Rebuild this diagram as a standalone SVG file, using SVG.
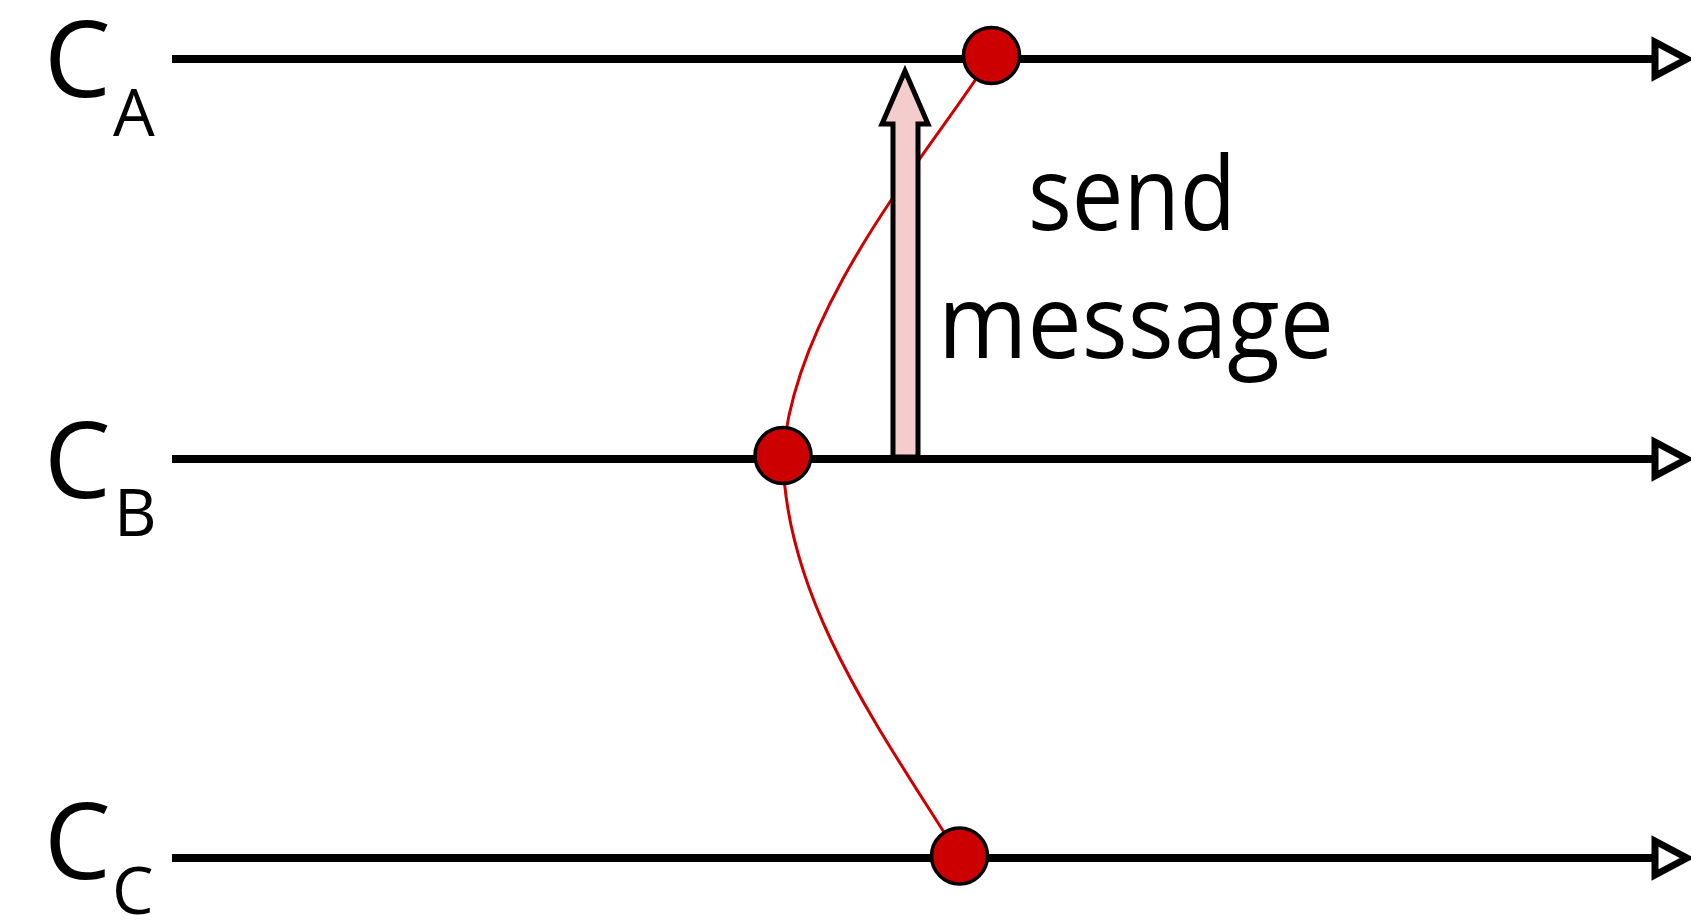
<svg xmlns="http://www.w3.org/2000/svg" width="1691" height="923" viewBox="0 0 1691 923">
<defs>
<style>
.tl{stroke:#000;stroke-width:8;fill:none}
.ah{fill:#fff;stroke:#000;stroke-width:7;stroke-linejoin:miter}
.ev{fill:#CC0000;stroke:#000;stroke-width:3.5}
.cur{fill:none;stroke:#CC0000;stroke-width:3}
.lbl{font-family:"Open Sans","Noto Sans",sans-serif;fill:#000}
</style>
</defs>
<g id="connectors">
<line class="tl" x1="172" y1="59" x2="1654" y2="59"/>
<polygon class="ah" points="1655,42 1687,59 1655,76"/>
<line class="tl" x1="172" y1="459" x2="1654" y2="459"/>
<polygon class="ah" points="1655,442 1687,459 1655,476"/>
<line class="tl" x1="172" y1="858" x2="1654" y2="858"/>
<polygon class="ah" points="1655,841 1687,858 1655,875"/>
<path class="cur" d="M991,56 C940,140 795,300 783,456"/>
<path class="cur" d="M783,456 C785,600 880,730 959,856"/>
</g>
<g id="send-arrow">
<polygon points="893,457 893,124 882,124 905,71 928,124 918,124 918,457" fill="#F4CCCC" stroke="#000" stroke-width="5"/>
</g>
<g id="eventA"><circle class="ev" cx="991.5" cy="55.5" r="28"/></g>
<g id="eventB"><circle class="ev" cx="783" cy="455.5" r="28"/></g>
<g id="eventC"><circle class="ev" cx="959.5" cy="856" r="28"/></g>
<g id="labelA"><text class="lbl" x="44" y="97" font-size="106">C<tspan x="113" y="136" font-size="66">A</tspan></text></g>
<g id="labelB"><text class="lbl" x="44" y="498" font-size="106">C<tspan x="114" y="536" font-size="66">B</tspan></text></g>
<g id="labelC"><text class="lbl" x="44" y="879" font-size="106">C<tspan x="112" y="914" font-size="66">C</tspan></text></g>
<g id="message-label"><text class="lbl" font-size="102"><tspan x="1028" y="230" textLength="208" lengthAdjust="spacingAndGlyphs">send</tspan><tspan x="938" y="358" textLength="396" lengthAdjust="spacingAndGlyphs">message</tspan></text></g>
</svg>
